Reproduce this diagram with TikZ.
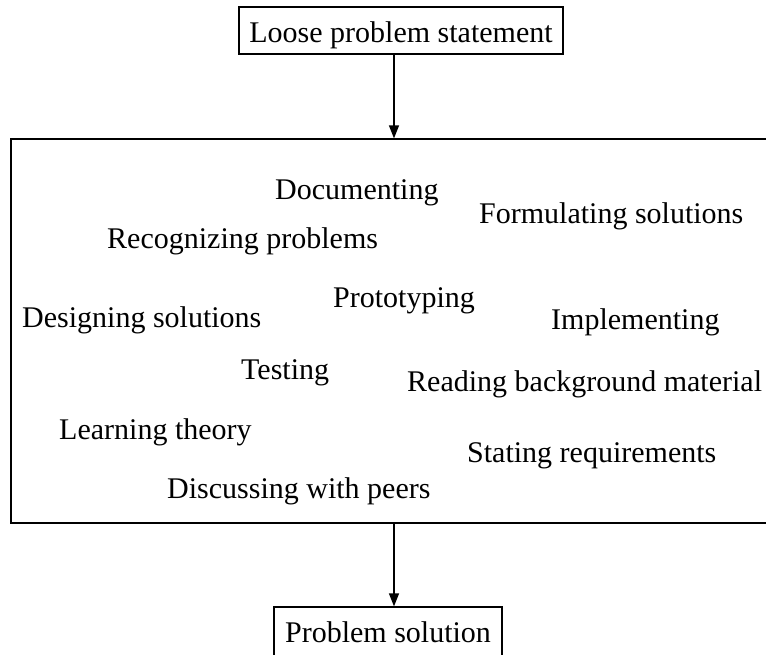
\documentclass[tikz,border=0pt]{standalone}
\usepackage{fontspec}
\setmainfont{Liberation Serif}
\usetikzlibrary{arrows.meta}

\tikzset{
  frame/.style={draw=black, line width=1.2pt, rectangle, inner sep=0pt,
    font=\fontsize{30}{36}\selectfont, text height=23pt, text depth=0pt},
  endbox/.style={frame, minimum height=47pt},
  activity/.style={anchor=base west, inner sep=0pt,
    font=\fontsize{30}{36}\selectfont},
  flow/.style={draw=black, line width=1.2pt,
    -{Triangle[length=13pt,width=10pt]}}
}

\begin{document}
\begin{tikzpicture}[x=1pt, y=-1pt]
  \useasboundingbox (0,0) rectangle (766,654);
  \clip (0,0) rectangle (766,654);

  % input and output of the process
  \node[endbox, minimum width=324pt] (start) at (401,30.5) {Loose problem statement};
  \node[endbox, minimum width=228pt, minimum height=52pt, text height=19pt]
    (finish) at (388,633) {Problem solution};

  % the working area holding all activities
  \node[frame, minimum width=766pt, minimum height=384pt] (work) at (394,331) {};

  % activities scattered inside the working area
  \node[activity] (doc)   at (275,199) {Documenting};
  \node[activity] (form)  at (479,223) {Formulating solutions};
  \node[activity] (recog) at (107,248) {Recognizing problems};
  \node[activity] (proto) at (333,307) {Prototyping};
  \node[activity] (design) at (22,327) {Designing solutions};
  \node[activity] (impl)  at (551,329) {Implementing};
  \node[activity] (test)  at (241,379) {Testing};
  \node[activity] (read)  at (407,391) {Reading background material};
  \node[activity] (learn) at (59,439) {Learning theory};
  \node[activity] (state) at (467,462) {Stating requirements};
  \node[activity] (disc)  at (167,498) {Discussing with peers};

  % connectors
  \draw[flow] (start.south -| work.north) -- (work.north);
  \draw[flow] (work.south) -- (finish.north -| work.south);
\end{tikzpicture}
\end{document}
